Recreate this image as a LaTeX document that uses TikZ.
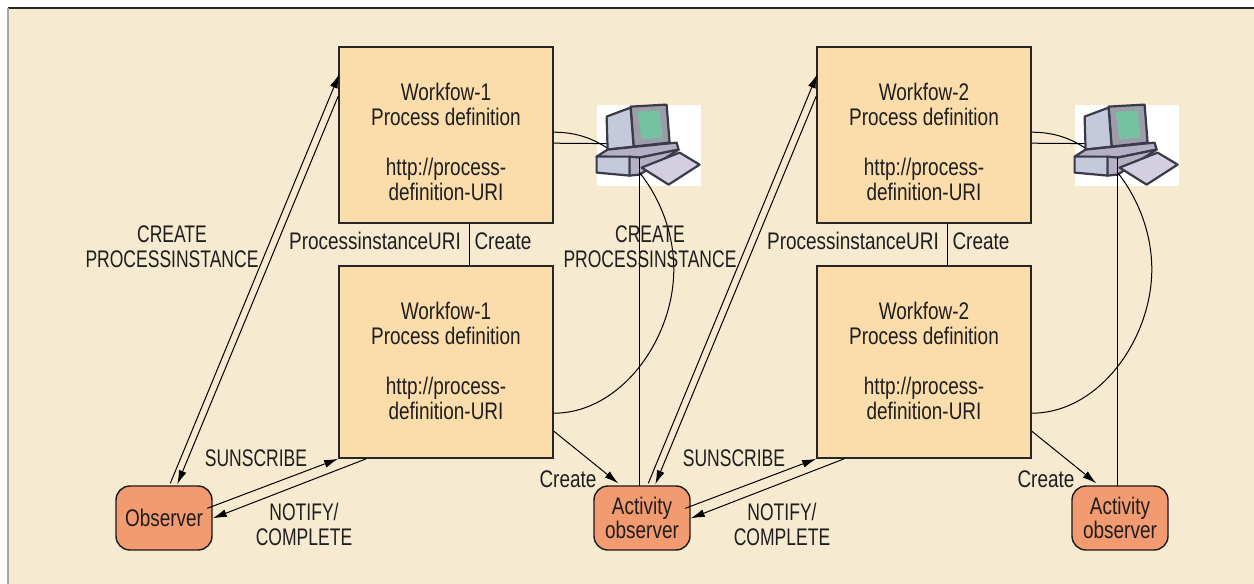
\documentclass[tikz,border=0pt]{standalone}
\usepackage{fontspec}
\setmainfont[FakeStretch=0.79]{Liberation Sans}
\newfontfamily\capsfont[FakeStretch=0.73]{Liberation Sans}
\usetikzlibrary{calc,arrows.meta}

\definecolor{paper}{HTML}{F6EBD0}
\definecolor{wfbox}{HTML}{FBDCAB}
\definecolor{obsbox}{HTML}{F29A70}
\definecolor{inktext}{HTML}{1E1E1E}
\definecolor{compline}{HTML}{3A3A48}
\definecolor{compside}{HTML}{C4C9DC}
\definecolor{compbody}{HTML}{9C9CAA}
\definecolor{compbase}{HTML}{B5B0C5}
\definecolor{compkeys}{HTML}{D3CFE0}
\definecolor{compscreen}{HTML}{74C2A2}

\tikzset{
    wfnode/.style={ draw=black!85, line width=.8pt, fill=wfbox, minimum width=107pt },
    obsnode/.style={ draw=black!90, line width=.7pt, fill=obsbox, rounded corners=7pt
        , minimum width=48pt, minimum height=32pt, align=center, text=inktext },
    lbl/.style={ align=center, text=inktext, inner sep=0pt },
    capslbl/.style={ lbl, font=\fontsize{12}{12.5}\capsfont },
    arrowline/.style={ line width=.5pt, -{Latex[length=7pt,width=4pt]} },
    plainline/.style={ line width=.5pt },
    pics/computer/.style={ code={
        \begin{scope}[draw=compline, line width=1.1pt, line join=round]
        \filldraw[fill=compbody] (34,2) -- (70,0) -- (73,38) -- (37,42) -- cycle;
        \filldraw[fill=compside] (10,12) -- (34,3) -- (37,42) -- (11,45) -- cycle;
        \fill[fill=compscreen] (41,7) -- (63,6) -- (66,33) -- (45,35) -- cycle;
        \filldraw[fill=compbase] (11,45) -- (80,38) -- (82,45) -- (43,53) -- (0,52) -- cycle;
        \filldraw[fill=compside] (0,52) -- (33,52) -- (33,71) -- (0,68) -- cycle;
        \filldraw[fill=compbase] (33,52) -- (43,53) -- (82,45) -- (43,70) -- (33,71) -- cycle;
        \filldraw[fill=compkeys] (45,63) -- (83,48) -- (103,60) -- (72,80) -- cycle;
        \end{scope}
    }}
}

\begin{document}
\begin{tikzpicture}[x=.5pt, y=-.5pt
        , every node/.style={ font=\fontsize{12}{12.5}\selectfont }
        ]
    \useasboundingbox (0,0) rectangle (1254,584);
    \fill[paper] (8,8) rectangle (1254,584);
    \draw[black!85, line width=.7pt] (1254,8) -- (8,8);
    \draw[gray!70, line width=.7pt] (8,8) -- (8,584);

    \node[obsnode] (obs0) at (164,518) {Observer};

    \foreach \n/\p/\x in {1/0/0, 2/1/478} {
        \node[wfnode, minimum height=88pt] (wfa\n) at (446+\x,135) {};
        \node[wfnode, minimum height=96pt] (wfb\n) at (446+\x,362) {};
        \node[obsnode] (obs\n) at (642+\x,518) {Activity\\[-.5pt]observer};

        \node[fill=white, minimum width=52pt, minimum height=40.5pt, inner sep=0pt] (comp\n) at (649+\x,145.5) {};
        \pic at (comp\n.north west) {computer};

        % workflow texts sit a little low in the upper box
        \node[lbl] (wfatext\n) at (446+\x,141.5) {Workfow-\n\\Process definition\\[12.5pt]http://process-\\definition-URI};
        \node[lbl] (wfbtext\n) at (446+\x,360.5) {Workfow-\n\\Process definition\\[12.5pt]http://process-\\definition-URI};

        \draw[plainline] ($(wfa\n.south)+(23,0)$) -- ($(wfb\n.north)+(23,0)$);

        % observer and process instance
        \draw[arrowline] ($(obs\p.north west)+(55,-2)$) -- ($(wfa\n.north west)+(1,28)$);
        \draw[arrowline] ($(wfa\n.north west)+(0,50)$) -- ($(obs\p.north west)+(62,-1)$);
        \draw[arrowline] ($(obs\p.north west)+(92,23)$) -- (wfb\n.south west);
        \draw[arrowline] ($(wfb\n.south west)+(28,0)$) -- ($(obs\p.north east)+(0,33)$);

        \draw[arrowline] ($(wfb\n.north east)+(0,166)$) -- ($(obs\n.north west)+(25,-2)$);

        % computer links
        \draw[plainline] ($(wfa\n.north east)+(0,97)$) -- ($(comp\n.north west)+(10,39)$);
        \draw[plainline] ($(wfa\n.north east)+(0,86)$) .. controls ($(wfa\n.north east)+(22,86)$) and ($(wfa\n.north east)+(38,92)$) .. ($(comp\n.north west)+(10,43)$);
        \draw[plainline] ($(comp\n.north west)+(43,53)$) -- ($(comp\n.north west)+(43,381)$);
        \draw[plainline] ($(wfb\n.north east)+(0,148)$) .. controls ($(wfb\n.north east)+(67,148)$) and ($(wfb\n.north east)+(120,74)$) .. ($(wfb\n.north east)+(120,4)$)
            .. controls ($(wfb\n.north east)+(120,-31)$) and ($(wfb\n.north east)+(107,-66)$) .. ($(comp\n.north west)+(43,68)$);

        \node[lbl] (uri\n) at (375+\x,241) {ProcessinstanceURI};
        \node[lbl] (crt\n) at (503+\x,241) {Create};
        \node[lbl] (crobs\n) at (568+\x,479) {Create};
        \node[capslbl] (inst\n) at (172+\x,246.5) {CREATE\\PROCESSINSTANCE};
        \node[capslbl] (sub\n) at (256+\x,458) {SUNSCRIBE};
        \node[capslbl] (noti\n) at (304+\x,524.5) {NOTIFY/\\COMPLETE};
    }
\end{tikzpicture}
\end{document}
